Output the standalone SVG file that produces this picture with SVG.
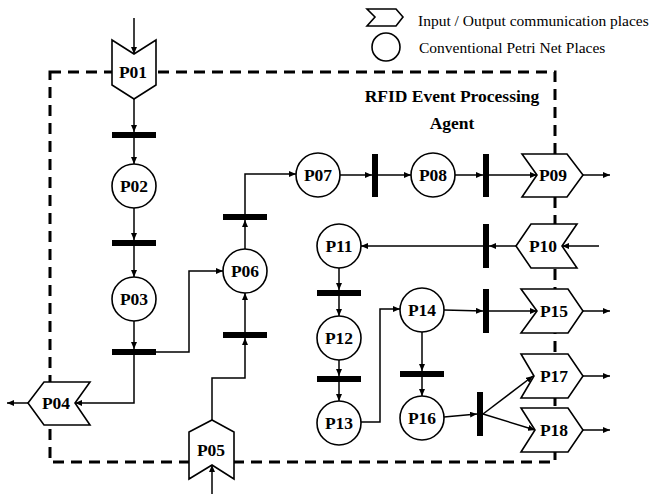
<svg xmlns="http://www.w3.org/2000/svg" width="652" height="494" viewBox="0 0 652 494">
<defs>
<marker id="ah" markerUnits="userSpaceOnUse" markerWidth="8" markerHeight="6" refX="7" refY="3" orient="auto">
<path d="M0,0 L7,3 L0,6 Z" fill="#000"/>
</marker>
<style>
.bd{fill:none;stroke:#000;stroke-width:3;stroke-dasharray:11 7}
.pl{fill:#fff;stroke:#000;stroke-width:1.6}
.io{fill:#fff;stroke:#000;stroke-width:1.6;stroke-linejoin:miter}
.tr{fill:#000}
.lb{font-family:"Liberation Serif","Times New Roman",serif;font-weight:bold;font-size:17.5px;text-anchor:middle;dominant-baseline:central}
.lg{font-family:"Liberation Serif","Times New Roman",serif;font-size:15.5px}
.tt{font-family:"Liberation Serif","Times New Roman",serif;font-weight:bold;font-size:17.5px;text-anchor:middle}
.e{fill:none;stroke:#000;stroke-width:1.5;marker-end:url(#ah)}
</style>
</defs>
<rect x="0" y="0" width="652" height="494" fill="#fff"/>
<g id="legend">
<polygon class="io" points="367,9 396,9 403,17 396,26 367,26 375,17"/>
<text class="lg" x="418" y="26">Input / Output communication places</text>
<circle class="pl" cx="386" cy="47" r="14"/>
<text class="lg" x="419" y="53">Conventional Petri Net Places</text>
</g>
<g id="boundary">
<rect class="bd" x="50" y="72" width="505" height="390"/>
<text class="tt" x="452" y="102">RFID Event Processing</text>
<text class="tt" x="452" y="129">Agent</text>
</g>
<g id="connectors">
<path class="e" d="M134,18 V54"/>
<path class="e" d="M134,99 V132"/>
<path class="e" d="M134,138 V164"/>
<path class="e" d="M134,208 V240"/>
<path class="e" d="M134,246 V277"/>
<path class="e" d="M134,321 V349"/>
<path class="e" d="M156,352 H189 V271 H223"/>
<path class="e" d="M134,355 V403 H75"/>
<path class="e" d="M28,403 H7"/>
<path class="e" d="M212,494 V465"/>
<path class="e" d="M212,420 V378 H245 V338"/>
<path class="e" d="M245,332 V293"/>
<path class="e" d="M245,249 V220"/>
<path class="e" d="M245,214 V174 H296"/>
<path class="e" d="M340,175 H372"/>
<path class="e" d="M378,175 H411"/>
<path class="e" d="M455,175 H483"/>
<path class="e" d="M489,175 H537"/>
<path class="e" d="M583,175 H610"/>
<path class="e" d="M599,246 H562"/>
<path class="e" d="M516,246 H489"/>
<path class="e" d="M483,246 H361"/>
<path class="e" d="M339,268 V290"/>
<path class="e" d="M339,296 V316"/>
<path class="e" d="M339,360 V376"/>
<path class="e" d="M339,382 V401"/>
<path class="e" d="M361,422 H380 V309 H400"/>
<path class="e" d="M444,310 L483,311"/>
<path class="e" d="M489,311 H537"/>
<path class="e" d="M583,311 H610"/>
<path class="e" d="M422,332 V371"/>
<path class="e" d="M422,377 V396"/>
<path class="e" d="M444,417 L477,414"/>
<path class="e" d="M483,414 L533,376"/>
<path class="e" d="M483,414 L535,430"/>
<path class="e" d="M583,376 H610"/>
<path class="e" d="M583,430 H610"/>
</g>
<g id="transitions">
<rect class="tr" x="112" y="132" width="44" height="6"/>
<rect class="tr" x="112" y="240" width="44" height="6"/>
<rect class="tr" x="112" y="349" width="44" height="6"/>
<rect class="tr" x="223" y="332" width="44" height="6"/>
<rect class="tr" x="223" y="214" width="44" height="6"/>
<rect class="tr" x="372" y="154" width="6" height="43"/>
<rect class="tr" x="483" y="154" width="6" height="43"/>
<rect class="tr" x="483" y="224" width="6" height="44"/>
<rect class="tr" x="317" y="290" width="44" height="6"/>
<rect class="tr" x="317" y="376" width="44" height="6"/>
<rect class="tr" x="483" y="289" width="6" height="44"/>
<rect class="tr" x="400" y="371" width="44" height="6"/>
<rect class="tr" x="477" y="392" width="6" height="44"/>
</g>
<g id="P01"><polygon class="io" points="112,40 134,54 156,40 156,85 134,99 112,85"/><text class="lb" x="133" y="72">P01</text></g>
<g id="P02"><circle class="pl" cx="134" cy="186" r="22"/><text class="lb" x="134" y="186">P02</text></g>
<g id="P03"><circle class="pl" cx="134" cy="299" r="22"/><text class="lb" x="134" y="299">P03</text></g>
<g id="P04"><polygon class="io" points="28,403 44,382 90,382 75,403 90,425 44,425"/><text class="lb" x="56" y="403">P04</text></g>
<g id="P05"><polygon class="io" points="212,420 234,432 234,479 212,465 189,479 189,432"/><text class="lb" x="211" y="450">P05</text></g>
<g id="P06"><circle class="pl" cx="245" cy="271" r="22"/><text class="lb" x="245" y="271">P06</text></g>
<g id="P07"><circle class="pl" cx="318" cy="175" r="22"/><text class="lb" x="318" y="175">P07</text></g>
<g id="P08"><circle class="pl" cx="433" cy="175" r="22"/><text class="lb" x="433" y="175">P08</text></g>
<g id="P09"><polygon class="io" points="522,154 567,154 583,175 567,197 522,197 537,175"/><text class="lb" x="553" y="175">P09</text></g>
<g id="P10"><polygon class="io" points="516,246 531,224 577,224 562,246 577,268 531,268"/><text class="lb" x="543" y="246">P10</text></g>
<g id="P11"><circle class="pl" cx="339" cy="246" r="22"/><text class="lb" x="339" y="246">P11</text></g>
<g id="P12"><circle class="pl" cx="339" cy="338" r="22"/><text class="lb" x="339" y="338">P12</text></g>
<g id="P13"><circle class="pl" cx="339" cy="423" r="22"/><text class="lb" x="339" y="423">P13</text></g>
<g id="P14"><circle class="pl" cx="422" cy="310" r="22"/><text class="lb" x="422" y="310">P14</text></g>
<g id="P15"><polygon class="io" points="521,289 568,289 583,311 568,333 521,333 537,311"/><text class="lb" x="554" y="311">P15</text></g>
<g id="P16"><circle class="pl" cx="422" cy="418" r="22"/><text class="lb" x="422" y="418">P16</text></g>
<g id="P17"><polygon class="io" points="521,354 568,354 583,376 568,398 521,398 534,376"/><text class="lb" x="554" y="376">P17</text></g>
<g id="P18"><polygon class="io" points="521,408 568,408 583,430 568,452 521,452 535,430"/><text class="lb" x="554" y="430">P18</text></g>
</svg>
